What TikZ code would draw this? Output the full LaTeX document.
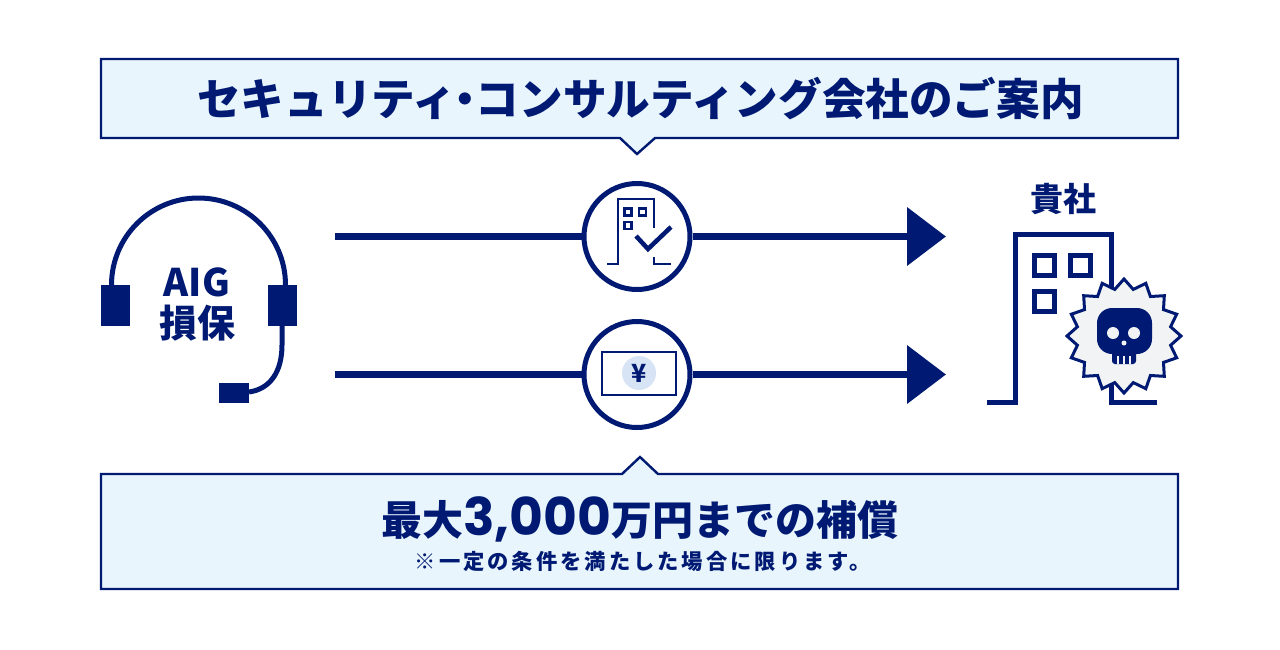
\documentclass[tikz,border=0pt]{standalone}
\usepackage{fontspec}
\usetikzlibrary{arrows.meta,shapes.geometric}
\setmainfont{Noto Sans CJK JP}
\newfontfamily\numf{Poppins}
\definecolor{navy}{HTML}{001A73}
\definecolor{pale}{HTML}{E8F5FC}
\definecolor{yenc}{HTML}{D6E4F5}
\definecolor{burst}{HTML}{F1F3F4}
\newcommand{\fs}[1]{\fontsize{#1}{#1}\selectfont\bfseries}
\tikzset{
  txt/.style={text=navy,inner sep=0pt,outer sep=0pt,align=center},
  boxline/.style={draw=navy,line width=2.4pt,fill=pale,line join=miter},
  flow/.style={draw=navy,line width=7.5pt},
  flowhead/.style={draw=navy,line width=7.5pt,-{Triangle[length=39pt,width=57pt,color=navy]}},
  ring/.style={circle,draw=navy,line width=5pt,minimum size=106pt,inner sep=0pt,fill=white},
  fine/.style={draw=navy,line width=2.3pt},
  heavy/.style={draw=navy,line width=5pt},
  solid box/.style={fill=navy,draw=none},
}
\begin{document}
\begin{tikzpicture}[x=1pt,y=-1pt]
\useasboundingbox (0,0) rectangle (1280,649);
% top box
\path[boxline] (101,59) -- (1178,59) -- (1178,138) -- (655,138) -- (637,154) -- (620,138) -- (101,138) -- cycle;
\node[txt] (title) at (640.5,99) {\fs{43.6}セキュリティ\kern-.3em ・\kern-.25em コンサルティング会社のご案内};
% bottom box
\path[boxline] (101,474) -- (622,474) -- (640,457) -- (658,474) -- (1178,474) -- (1178,589) -- (101,589) -- cycle;
\node[txt] (amount) at (640,519) {\fs{41}最大{\numf\fontsize{52}{52}\selectfont 3,000}万円までの補償};
\node[txt] (note) at (643,561) {\fs{21.3}\addfontfeature{LetterSpace=14}※一定の条件を満たした場合に限ります。};
% headset
\path[solid box] (101,285) rectangle (130,326);
\path[solid box] (268,285) rectangle (297,326);
\path[solid box] (219,383) rectangle (249,403);
\coordinate (bandL) at (111.5,285);
\coordinate (bandR) at (285.5,285);
\draw[heavy] (bandL) arc[start angle=180,end angle=360,radius=87];
\coordinate (cordT) at (282,326);
\coordinate (cordB) at (249,392);
\draw[heavy] (cordT) -- (282,345) .. controls (282,372) and (270,389) .. (cordB);
\node[txt] (aig) at (197,282) {\fs{38}AIG};
\node[txt] (sonpo) at (197.5,323) {\fs{38}損保};
% flows
\coordinate (s1) at (335,236.5);
\coordinate (s2) at (335,374.5);
\coordinate (e1) at (946,236.5);
\coordinate (e2) at (946,374.5);
\node[ring] (c1) at (637,236.5) {};
\node[ring] (c2) at (637,374.5) {};
\draw[flow] (s1) -- (c1);
\draw[flowhead] (c1) -- (e1);
\draw[flow] (s2) -- (c2);
\draw[flowhead] (c2) -- (e2);
% building check icon
\draw[fine] (607,264) -- (618,264) -- (618,199) -- (654,199) -- (654,228);
\draw[fine] (654,257) -- (654,264) -- (671,264);
\draw[fine] (624.5,208.5) rectangle (631.5,215.5);
\draw[fine] (639,208.5) rectangle (646,215.5);
\draw[fine] (624.5,222) rectangle (631.5,229);
\draw[draw=navy,line width=4.5pt] (636,236) -- (648,249) -- (671,227);
% yen icon
\draw[fine] (602,352) rectangle (676,395);
\path[fill=yenc] (639,373) circle (17);
\node[txt] (yen) at (639,373) {\fs{25}¥};
% company
\node[txt] (kisha) at (1063.5,199) {\fs{33}貴社};
\draw[heavy] (987,402) -- (1015.5,402) -- (1015.5,234) -- (1111,234) -- (1111,402) -- (1157,402);
\draw[heavy] (1034,255) rectangle (1054,275);
\draw[heavy] (1070,255) rectangle (1090,275);
\draw[heavy] (1034,291) rectangle (1054,311);
\node[star,star points=16,star point ratio=1.2,minimum size=114pt,inner sep=0pt,outer sep=0pt,draw=navy,line width=3pt,fill=burst,line join=miter] (burstn) at (1124,336) {};
\path[solid box,rounded corners=15pt] (1097,308) rectangle (1152,354);
\path[solid box,rounded corners=3pt] (1112,340) rectangle (1136,364);
\path[fill=burst] (1113,333) circle (6) (1134,333) circle (6) (1124,343) circle (2.5);
\draw[draw=burst,line width=1.2pt] (1118,356) -- (1118,364) (1124,356) -- (1124,364) (1130,356) -- (1130,364);
\end{tikzpicture}
\end{document}
